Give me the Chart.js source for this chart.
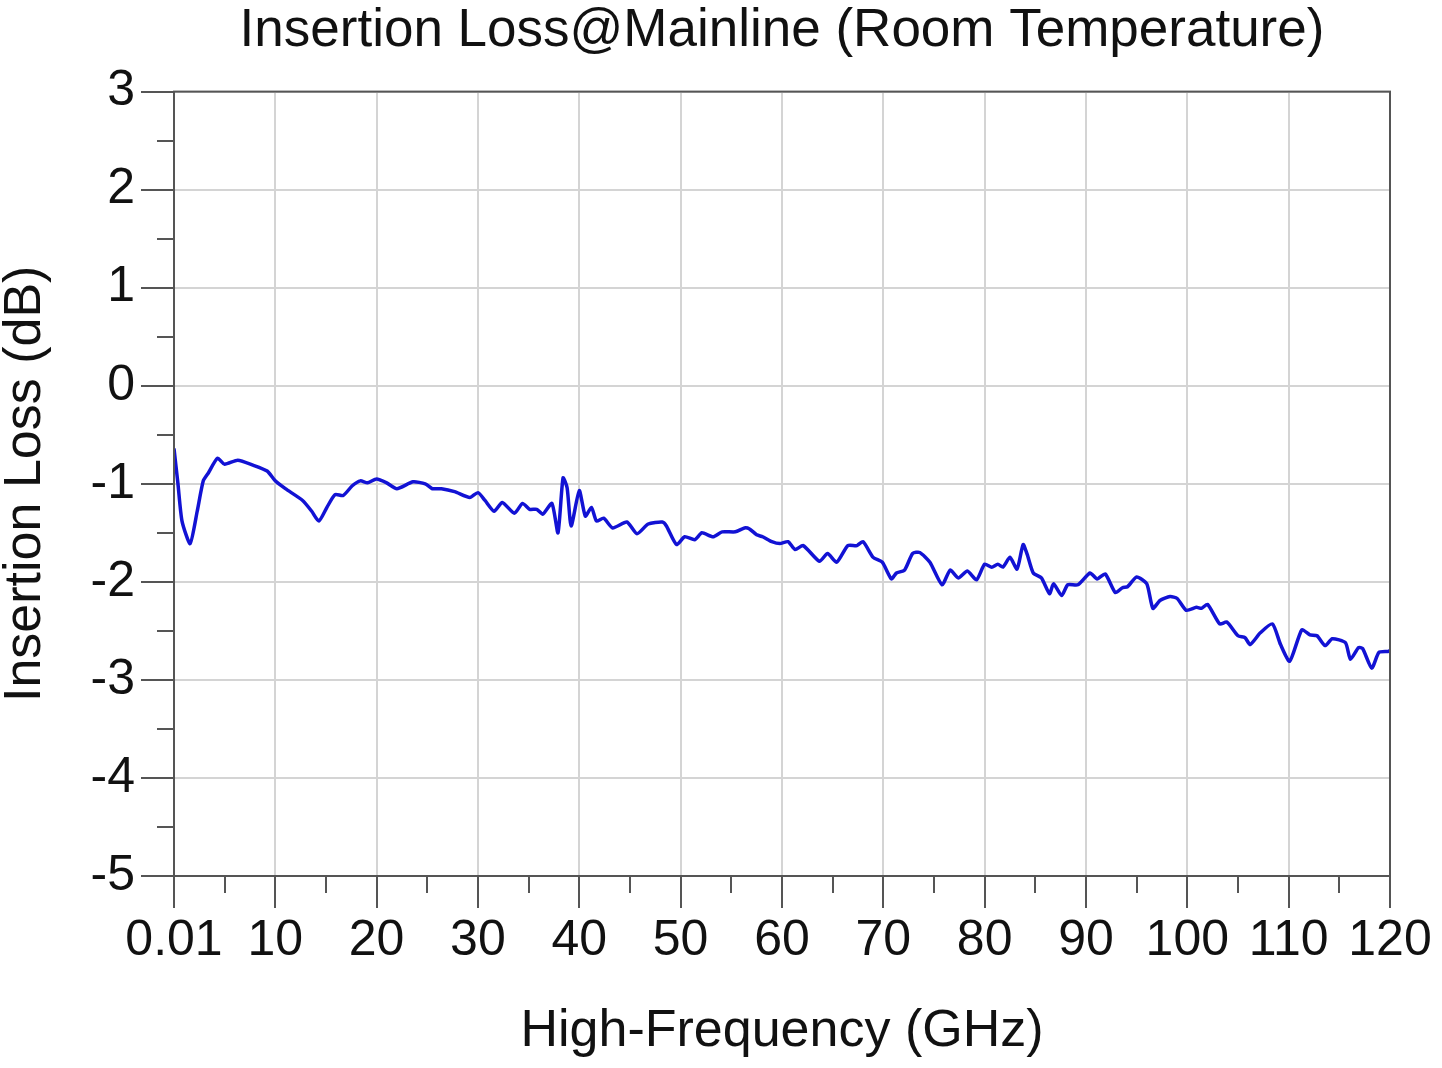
<!DOCTYPE html>
<html lang="en">
<head>
  <meta charset="UTF-8">
  <title>Insertion Loss@Mainline</title>
  <style>
    body { margin: 0; background: #fff; }
    canvas { display: block; }
  </style>
</head>
<body>
  <canvas id="lossChart" width="1442" height="1068"></canvas>

  <script src="https://cdn.jsdelivr.net/npm/chart.js"></script>
  <script>
    // frequency points (GHz) and insertion loss (dB)
    const freq = [0.01, 0.4, 0.8, 1.6, 2.3, 2.9, 3.4, 4.3, 5.0, 6.3, 7.8, 9.2, 10.0, 11.0, 12.7, 13.6, 14.3, 15.1, 15.9, 16.7,
      17.6, 18.4, 19.1, 20.0, 21.0, 22.0, 23.6, 24.8, 25.5, 26.4, 27.7, 29.2, 30.0, 30.7, 31.6, 32.4, 33.6, 34.4, 35.1, 35.8,
      36.4, 37.3, 37.9, 38.4, 38.8, 39.2, 40.0, 40.6, 41.2, 41.7, 42.4, 43.3, 44.7, 45.7, 46.8, 48.2, 48.6, 49.6, 50.4, 51.4,
      52.1, 53.2, 54.1, 55.4, 56.3, 56.8, 57.5, 58.1, 59.0, 59.8, 60.6, 61.3, 62.1, 63.7, 64.5, 65.4, 66.5, 67.4, 68.0, 69.0,
      69.9, 70.8, 71.3, 72.1, 72.9, 73.6, 74.6, 75.8, 76.6, 77.4, 78.3, 79.2, 80.0, 80.7, 81.3, 81.8, 82.5, 83.2, 83.8, 84.2,
      84.8, 85.6, 86.4, 86.8, 87.6, 88.2, 89.2, 90.4, 91.1, 91.9, 92.9, 93.6, 94.1, 95.0, 96.0, 96.6, 97.3, 98.3, 99.0, 99.9,
      100.9, 101.4, 102.0, 103.2, 103.9, 105.0, 105.7, 106.2, 107.2, 108.4, 109.2, 110.1, 111.3, 112.1, 112.8, 113.6, 114.3, 115.6, 116.1, 116.9,
      117.3, 118.2, 118.9, 119.8, 120];
    const loss = [-0.64, -1.0, -1.38, -1.61, -1.28, -0.97, -0.89, -0.74, -0.80, -0.76, -0.81, -0.87, -0.97, -1.05, -1.17, -1.28, -1.38, -1.24, -1.11, -1.12,
      -1.02, -0.97, -0.99, -0.95, -0.99, -1.05, -0.98, -1.0, -1.05, -1.05, -1.08, -1.14, -1.09, -1.17, -1.28, -1.19, -1.30, -1.20, -1.26, -1.26,
      -1.31, -1.20, -1.50, -0.94, -1.04, -1.43, -1.07, -1.33, -1.24, -1.38, -1.35, -1.45, -1.39, -1.51, -1.41, -1.39, -1.43, -1.62, -1.54, -1.57,
      -1.50, -1.54, -1.49, -1.49, -1.45, -1.46, -1.52, -1.54, -1.59, -1.61, -1.59, -1.67, -1.63, -1.79, -1.71, -1.80, -1.63, -1.63, -1.59, -1.75,
      -1.80, -1.97, -1.91, -1.88, -1.71, -1.70, -1.80, -2.03, -1.88, -1.96, -1.89, -1.98, -1.82, -1.85, -1.82, -1.85, -1.75, -1.87, -1.62, -1.72,
      -1.91, -1.96, -2.12, -2.02, -2.14, -2.03, -2.03, -1.91, -1.97, -1.92, -2.11, -2.06, -2.05, -1.95, -2.02, -2.27, -2.19, -2.15, -2.17, -2.29,
      -2.26, -2.27, -2.23, -2.43, -2.41, -2.55, -2.57, -2.64, -2.52, -2.43, -2.64, -2.81, -2.49, -2.54, -2.55, -2.65, -2.58, -2.62, -2.79, -2.67,
      -2.68, -2.88, -2.72, -2.71, -2.70];

    const xTicks = [0.01, 10, 20, 30, 40, 50, 60, 70, 80, 90, 100, 110, 120];
    const xMinor = [5, 15, 25, 35, 45, 55, 65, 75, 85, 95, 105, 115];
    const yTicks = [-5, -4, -3, -2, -1, 0, 1, 2, 3];
    const yMinor = [-4.5, -3.5, -2.5, -1.5, -0.5, 0.5, 1.5, 2.5];

    const FONT = "'Liberation Sans', Arial, sans-serif";

    // dark frame round the plot plus the short minor tick marks
    const frame = {
      id: 'frame',
      afterDraw(chart) {
        const { ctx, chartArea: a, scales: { x, y } } = chart;
        ctx.save();
        ctx.strokeStyle = '#555';
        ctx.lineWidth = 2;
        ctx.strokeRect(a.left, a.top, a.right - a.left, a.bottom - a.top);
        ctx.beginPath();
        xMinor.forEach(v => {
          const px = Math.round(x.getPixelForValue(v));
          ctx.moveTo(px, a.bottom);
          ctx.lineTo(px, a.bottom + 17);
        });
        yMinor.forEach(v => {
          const py = Math.round(y.getPixelForValue(v));
          ctx.moveTo(a.left, py);
          ctx.lineTo(a.left - 17, py);
        });
        ctx.stroke();
        ctx.restore();
      }
    };

    const ctx = document.getElementById('lossChart').getContext('2d');
    new Chart(ctx, {
      type: 'line',
      data: {
        datasets: [{
          data: freq.map((f, i) => ({ x: f, y: loss[i] })),
          borderColor: '#1212d4',
          borderWidth: 3.5,
          pointRadius: 0,
          tension: 0.2,
          fill: false
        }]
      },
      options: {
        responsive: false,
        animation: false,
        layout: { padding: { top: 0, right: 52, bottom: 0, left: 0 } },
        plugins: {
          legend: { display: false },
          tooltip: { enabled: false },
          title: {
            display: true,
            fullSize: false,
            text: 'Insertion Loss@Mainline (Room Temperature)',
            color: '#111',
            font: { family: FONT, size: 53, weight: 'normal', lineHeight: 1.2 },
            padding: { top: 0, bottom: 28 }
          }
        },
        scales: {
          x: {
            type: 'linear',
            min: 0.01,
            max: 120,
            afterBuildTicks: s => { s.ticks = xTicks.map(v => ({ value: v })); },
            afterFit: s => { s.height = 192; },
            ticks: {
              color: '#111',
              padding: 3,
              maxRotation: 0,
              font: { family: FONT, size: 50 },
              callback: v => String(v)
            },
            grid: { color: '#d4d4d4', lineWidth: 2, tickColor: '#555', tickLength: 32 },
            border: { color: '#555', width: 2 },
            title: {
              display: true,
              text: 'High-Frequency (GHz)',
              color: '#111',
              font: { family: FONT, size: 52 },
              padding: { top: 0, bottom: 5 }
            }
          },
          y: {
            min: -5,
            max: 3,
            afterBuildTicks: s => { s.ticks = yTicks.map(v => ({ value: v })); },
            afterFit: s => { s.width = 174; },
            ticks: {
              color: '#111',
              padding: 6,
              font: { family: FONT, size: 50 }
            },
            grid: { color: '#d4d4d4', lineWidth: 2, tickColor: '#555', tickLength: 33 },
            border: { color: '#555', width: 2 },
            title: {
              display: true,
              text: 'Insertion Loss (dB)',
              color: '#111',
              font: { family: FONT, size: 52, lineHeight: 1 },
              padding: { top: 0, bottom: 0 }
            }
          }
        }
      },
      plugins: [frame]
    });
  </script>
</body>
</html>
